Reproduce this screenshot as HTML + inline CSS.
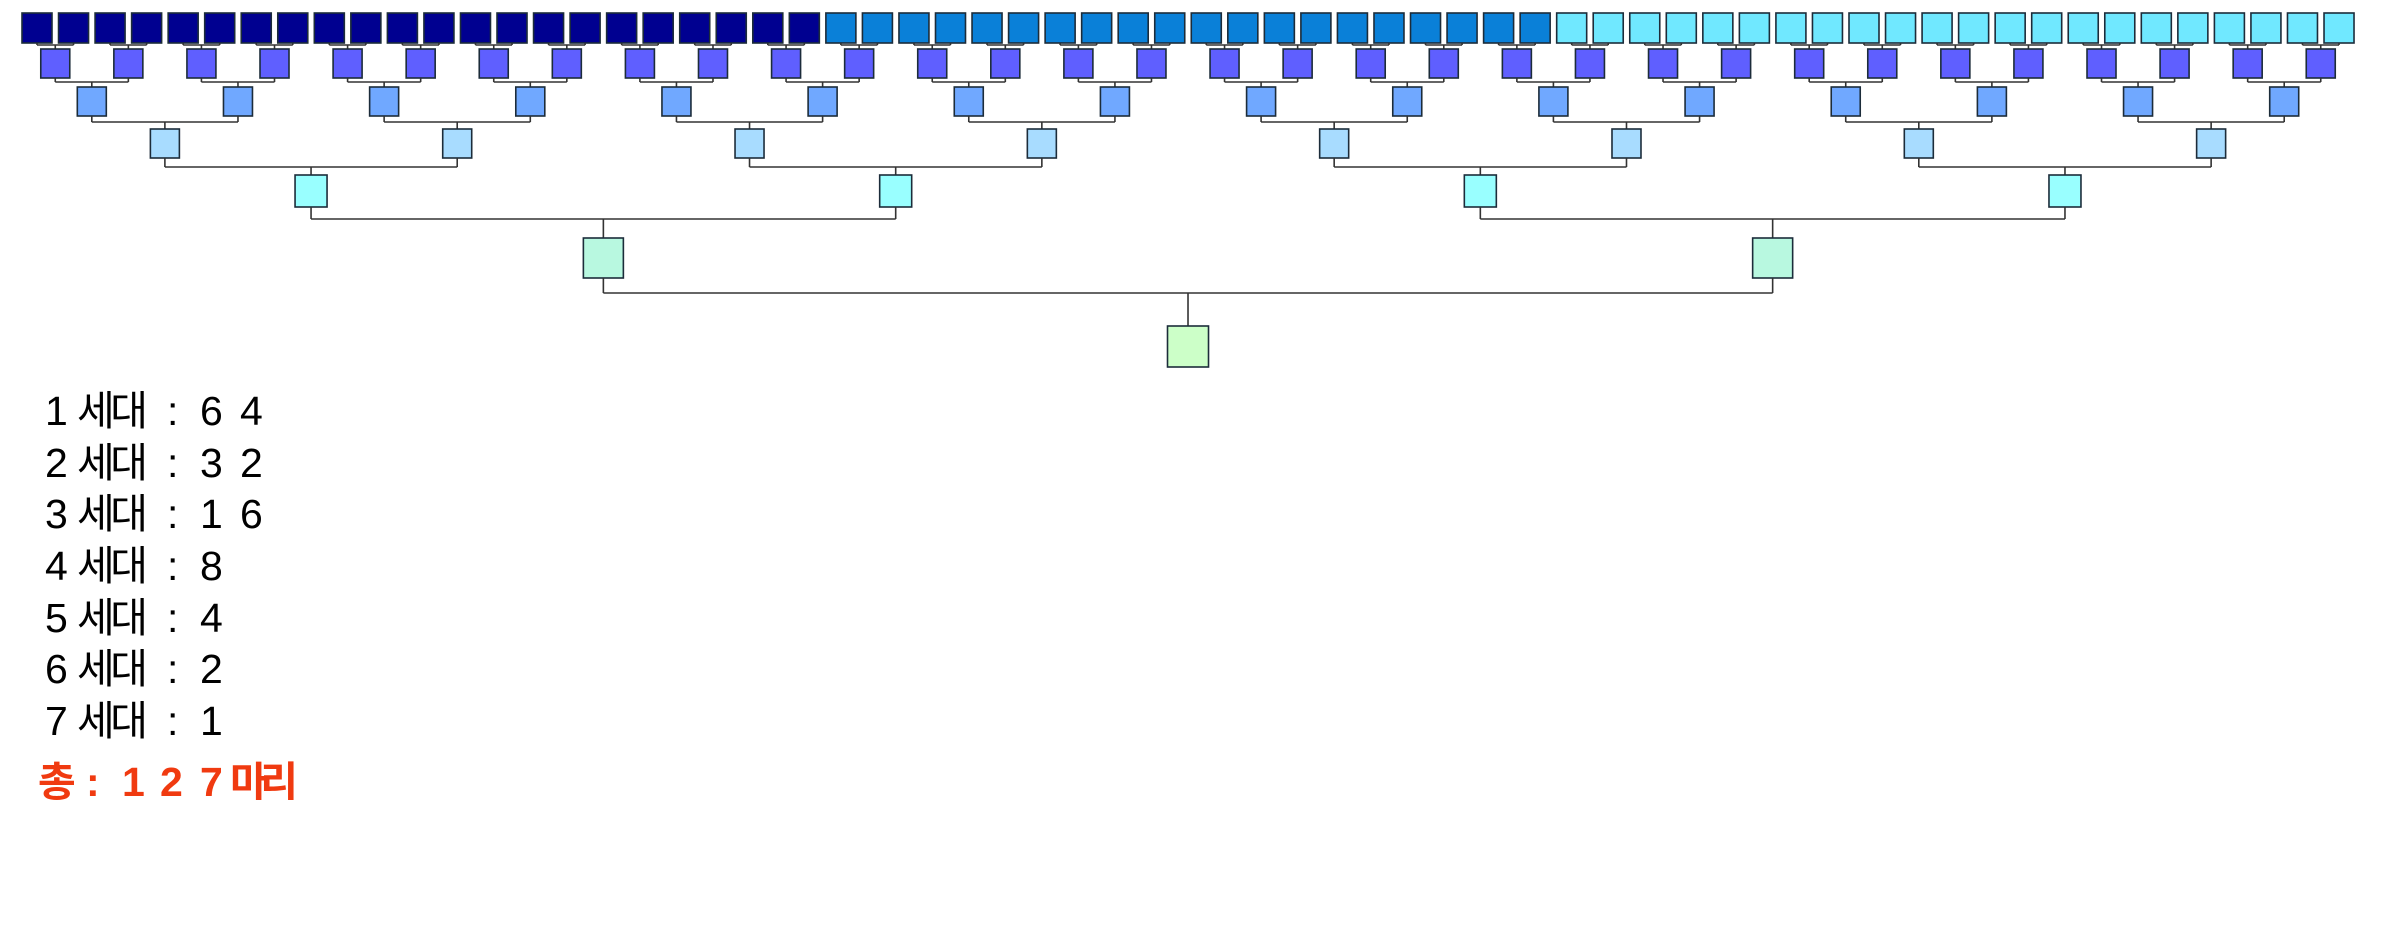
<!DOCTYPE html>
<html><head><meta charset="utf-8">
<style>
html,body{margin:0;padding:0;background:#fff;width:2382px;height:952px;overflow:hidden}
svg{display:block}
.t{font-family:"Liberation Sans","Noto Sans CJK KR",sans-serif;font-size:41px;fill:#000}
.r{font-family:"Liberation Sans","Noto Sans CJK KR",sans-serif;font-size:41px;fill:#f03a10;font-weight:bold}
</style></head><body>
<svg id="s" width="2382" height="952" xmlns="http://www.w3.org/2000/svg">
<g id="g"></g>
<g class="t">
<text x="45" y="425">1</text><text x="77" y="425" textLength="71">세대</text><text x="167" y="425">:</text><text x="200" y="425">6</text><text x="240" y="425">4</text>
<text x="45" y="477">2</text><text x="77" y="477" textLength="71">세대</text><text x="167" y="477">:</text><text x="200" y="477">3</text><text x="240" y="477">2</text>
<text x="45" y="528">3</text><text x="77" y="528" textLength="71">세대</text><text x="167" y="528">:</text><text x="200" y="528">1</text><text x="240" y="528">6</text>
<text x="45" y="580">4</text><text x="77" y="580" textLength="71">세대</text><text x="167" y="580">:</text><text x="200" y="580">8</text>
<text x="45" y="632">5</text><text x="77" y="632" textLength="71">세대</text><text x="167" y="632">:</text><text x="200" y="632">4</text>
<text x="45" y="683">6</text><text x="77" y="683" textLength="71">세대</text><text x="167" y="683">:</text><text x="200" y="683">2</text>
<text x="45" y="735">7</text><text x="77" y="735" textLength="71">세대</text><text x="167" y="735">:</text><text x="200" y="735">1</text>
</g>
<g class="r">
<text x="38" y="796" textLength="36">총</text><text x="86" y="796">:</text><text x="122" y="796">1</text><text x="160" y="796">2</text><text x="200" y="796">7</text><text x="230" y="796" textLength="68">마리</text>
</g>
</svg>
<script>
(function(){
var g=document.getElementById('g'),ns='http://www.w3.org/2000/svg',h='';
function R(cx,y,w,hh,f){h+='<rect x="'+(cx-w/2)+'" y="'+y+'" width="'+w+'" height="'+hh+'" fill="'+f+'" stroke="#1c2c3a" stroke-width="1.6"/>';}
function L(x1,y1,x2,y2){h+='<line x1="'+x1+'" y1="'+y1+'" x2="'+x2+'" y2="'+y2+'" stroke="#333" stroke-width="1.6"/>';}
var P=36.54,c=[];
for(var i=0;i<64;i++)c.push(37+P*i);
var levels=[
 {y:13,h:30,w:30},
 {y:49,h:29,w:29,f:'#5f5fff',ly:45},
 {y:87,h:29,w:29,f:'#70a8ff',ly:82},
 {y:129,h:29,w:29,f:'#a8dcff',ly:122},
 {y:175,h:32,w:32,f:'#99ffff',ly:167},
 {y:238,h:40,w:40,f:'#b8f8e0',ly:219},
 {y:326,h:41,w:41,f:'#ccffc8',ly:293}
];
var cur=c;
for(var i=0;i<64;i++){var f=i<22?'#000090':(i<42?'#0a80d8':'#70e8ff');R(c[i],13,30,30,f);}
for(var k=1;k<levels.length;k++){
 var lv=levels[k],pv=levels[k-1],nx=[];
 for(var j=0;j<cur.length;j+=2){
  var a=cur[j],b=cur[j+1],m=(a+b)/2;nx.push(m);
  L(a,pv.y+pv.h,a,lv.ly);L(b,pv.y+pv.h,b,lv.ly);L(a,lv.ly,b,lv.ly);L(m,lv.ly,m,lv.y);
 }
 for(var j=0;j<nx.length;j++)R(nx[j],lv.y,lv.w,lv.h,lv.f);
 cur=nx;
}
g.innerHTML=h;
})();
</script>
</body></html>
